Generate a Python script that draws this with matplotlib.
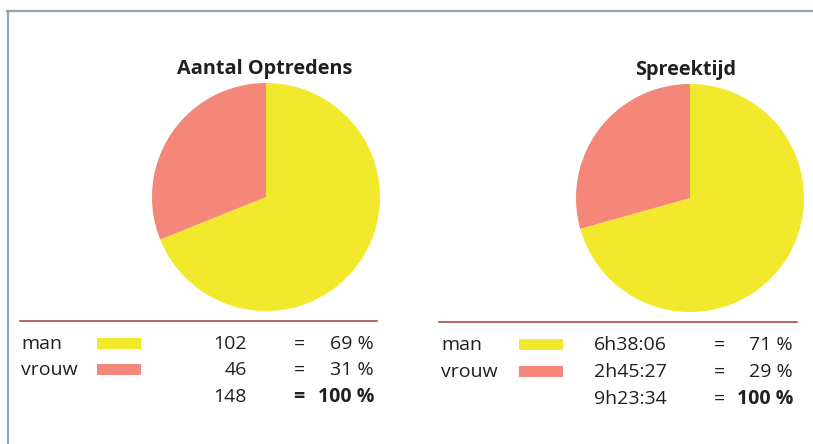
import matplotlib
matplotlib.use("Agg")
import matplotlib.pyplot as plt
from matplotlib.lines import Line2D

# ---------------- data ----------------
categories = ["man", "vrouw"]
left_title = "Aantal Optredens"
left_counts = [102, 46]
left_total = 148
left_pcts = [69, 31]

right_title = "Spreektijd"
right_times = ["6h38:06", "2h45:27"]
right_total = "9h23:34"
right_pcts = [71, 29]

colors = ["#F2E92C", "#F4877A"]

W, H = 813, 444
plt.rcParams['font.family'] = ['Open Sans', 'DejaVu Sans']
fig = plt.figure(figsize=(W / 100, H / 100), dpi=100)
fig.patch.set_facecolor("white")


def fx(x):
    return x / W


def fy(y):
    return 1 - y / H


def to_seconds(s):
    h, rest = s.split("h")
    m, sec = rest.split(":")
    return int(h) * 3600 + int(m) * 60 + int(sec)


# frame
frame_col = "#8FA6AF"
fig.add_artist(Line2D([fx(7.5), fx(7.5)], [fy(11), fy(444)], color=frame_col, lw=1.6))
fig.add_artist(Line2D([fx(7), fx(813)], [fy(11), fy(11)], color=frame_col, lw=1.6))


def pie_axes(cx, cy, r, values):
    ax = fig.add_axes([fx(cx - r), fy(cy + r), (2 * r) / W, (2 * r) / H])
    ax.pie(values, colors=colors, startangle=90, counterclock=False,
           radius=1.0, wedgeprops=dict(linewidth=0))
    ax.set_xlim(-1, 1)
    ax.set_ylim(-1, 1)
    ax.set_aspect('equal')
    ax.axis('off')
    return ax


pie_axes(266, 197, 114, left_counts)
pie_axes(690, 198, 114, [to_seconds(t) for t in right_times])

fs = 14
tfs = 14.3
txtcol = "#231F20"

# titles
fig.text(fx(265), fy(74), left_title, ha='center', va='baseline',
         fontsize=tfs, fontweight='bold', color=txtcol)
fig.text(fx(686), fy(75), right_title, ha='center', va='baseline',
         fontsize=tfs, fontweight='bold', color=txtcol)

# separator lines
line_col = "#A33A36"
fig.add_artist(Line2D([fx(20), fx(377)], [fy(321), fy(321)], color=line_col, lw=1.1))
fig.add_artist(Line2D([fx(439), fx(797)], [fy(322), fy(322)], color=line_col, lw=1.1))

# left table
rows_left = [349, 375]
for i, cat in enumerate(categories):
    y = rows_left[i]
    fig.text(fx(21), fy(y), cat, ha='left', va='baseline', fontsize=fs, color=txtcol)
    fig.patches.append(plt.Rectangle((fx(97), fy(y)), 44 / W, 11 / H,
                                     transform=fig.transFigure, color=colors[i], lw=0))
    fig.text(fx(247), fy(y), str(left_counts[i]), ha='right', va='baseline', fontsize=fs, color=txtcol)
    fig.text(fx(299), fy(y), "=", ha='center', va='baseline', fontsize=fs, color=txtcol)
    fig.text(fx(374), fy(y), f"{left_pcts[i]} %", ha='right', va='baseline', fontsize=fs, color=txtcol)
fig.text(fx(247), fy(402), str(left_total), ha='right', va='baseline', fontsize=fs, color=txtcol)
fig.text(fx(299), fy(402), "=", ha='center', va='baseline', fontsize=fs, color=txtcol, fontweight='bold')
fig.text(fx(374), fy(402), f"{sum(left_pcts)} %", ha='right', va='baseline', fontsize=fs,
         color=txtcol, fontweight='bold')

# right table
rows_right = [350, 377]
for i, cat in enumerate(categories):
    y = rows_right[i]
    fig.text(fx(441), fy(y), cat, ha='left', va='baseline', fontsize=fs, color=txtcol)
    fig.patches.append(plt.Rectangle((fx(519), fy(y)), 44 / W, 11 / H,
                                     transform=fig.transFigure, color=colors[i], lw=0))
    fig.text(fx(594), fy(y), right_times[i], ha='left', va='baseline', fontsize=fs, color=txtcol)
    fig.text(fx(719), fy(y), "=", ha='center', va='baseline', fontsize=fs, color=txtcol)
    fig.text(fx(793), fy(y), f"{right_pcts[i]} %", ha='right', va='baseline', fontsize=fs, color=txtcol)
fig.text(fx(594), fy(404), right_total, ha='left', va='baseline', fontsize=fs, color=txtcol)
fig.text(fx(719), fy(404), "=", ha='center', va='baseline', fontsize=fs, color=txtcol)
fig.text(fx(793), fy(404), f"{sum(right_pcts)} %", ha='right', va='baseline', fontsize=fs,
         color=txtcol, fontweight='bold')

fig.savefig("out.png", dpi=100, facecolor="white")
